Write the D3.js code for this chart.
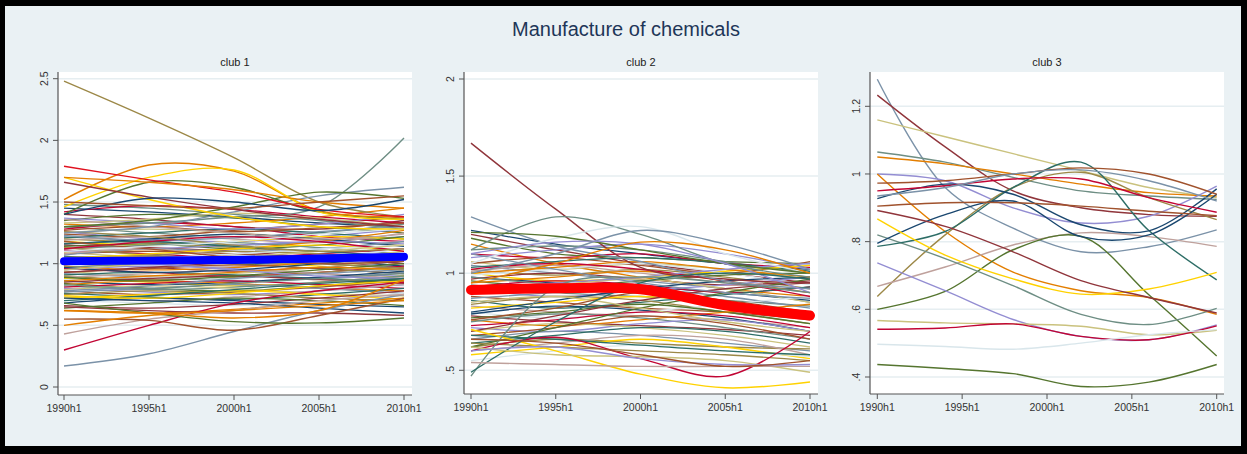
<!DOCTYPE html>
<html>
<head>
<meta charset="utf-8">
<script src="https://cdn.jsdelivr.net/npm/d3@7"></script>
<style>
  html, body { margin: 0; padding: 0; background: #000; }
  svg { display: block; font-family: "Liberation Sans", Arial, sans-serif; }
</style>
</head>
<body>
<svg id="chart" width="1247" height="454"></svg>
<script>
// ---------------- DATA ----------------
const chartTitle = "Manufacture of chemicals";
const panelTitles = ["club 1", "club 2", "club 3"];
const xTickValues = [1990, 1995, 2000, 2005, 2010];
const xTickLabels = ["1990h1", "1995h1", "2000h1", "2005h1", "2010h1"];

const club1Years = [1990, 1995, 2000, 2005, 2010];
const club1Ticks = [0, 0.5, 1, 1.5, 2, 2.5];
const club1Band = [
  [1.45,1.42,1.38,1.33,1.30],[1.40,1.36,1.30,1.28,1.35],[1.35,1.40,1.37,1.30,1.25],[1.32,1.30,1.33,1.38,1.45],
  [1.30,1.25,1.22,1.25,1.32],[1.28,1.33,1.30,1.22,1.18],[1.26,1.20,1.18,1.22,1.28],[1.25,1.28,1.25,1.20,1.15],
  [1.24,1.22,1.27,1.32,1.38],[1.22,1.18,1.15,1.18,1.22],[1.21,1.25,1.28,1.25,1.20],[1.20,1.17,1.13,1.10,1.12],
  [1.19,1.22,1.20,1.17,1.25],[1.18,1.15,1.18,1.22,1.20],[1.17,1.12,1.08,1.12,1.18],[1.16,1.20,1.24,1.20,1.14],
  [1.15,1.13,1.10,1.05,1.02],[1.14,1.16,1.12,1.15,1.22],[1.13,1.10,1.12,1.18,1.27],[1.12,1.15,1.17,1.13,1.08],
  [1.11,1.08,1.05,1.08,1.12],[1.10,1.12,1.15,1.18,1.16],[1.09,1.05,1.02,1.04,1.10],[1.08,1.10,1.08,1.05,1.00],
  [1.07,1.12,1.10,1.12,1.18],[1.06,1.03,1.00,1.02,1.06],[1.05,1.07,1.10,1.08,1.04],[1.04,1.00,0.98,1.02,1.08],
  [1.03,1.06,1.03,0.98,0.95],[1.02,0.98,1.00,1.05,1.12],[1.01,1.03,1.06,1.03,0.98],[1.00,0.97,0.94,0.97,1.02],
  [0.99,1.02,1.00,0.96,0.92],[0.98,0.95,0.97,1.01,1.05],[0.97,1.00,1.03,1.00,0.97],[0.96,0.93,0.90,0.93,0.98],
  [0.95,0.98,0.96,0.92,0.90],[0.94,0.90,0.92,0.97,1.03],[0.93,0.96,0.99,0.96,0.92],[0.92,0.89,0.86,0.88,0.93],
  [0.91,0.93,0.91,0.88,0.86],[0.90,0.87,0.89,0.93,0.97],[0.89,0.92,0.95,0.92,0.88],[0.88,0.85,0.82,0.85,0.90],
  [0.87,0.89,0.87,0.84,0.82],[0.86,0.83,0.85,0.89,0.94],[0.85,0.88,0.90,0.87,0.84],[0.84,0.80,0.78,0.82,0.88],
  [0.83,0.86,0.84,0.80,0.78],[0.82,0.79,0.81,0.85,0.90],[0.81,0.84,0.86,0.83,0.80],[0.80,0.77,0.75,0.78,0.83],
  [0.79,0.82,0.80,0.76,0.74],[0.78,0.75,0.77,0.81,0.86],[0.77,0.80,0.83,0.80,0.76],[0.76,0.73,0.71,0.75,0.80],
  [0.75,0.78,0.76,0.72,0.70],[0.73,0.70,0.73,0.78,0.83],[0.72,0.75,0.78,0.75,0.71],[0.70,0.68,0.66,0.70,0.76],
  [0.68,0.72,0.70,0.67,0.65],[0.66,0.64,0.67,0.72,0.78],[0.64,0.68,0.72,0.70,0.66],[0.62,0.60,0.63,0.68,0.72],
  [1.48,1.45,1.40,1.35,1.28],[1.42,1.47,1.44,1.38,1.33],[1.37,1.33,1.28,1.32,1.40],[1.33,1.36,1.41,1.37,1.30],
  [1.27,1.30,1.26,1.29,1.33],[1.23,1.19,1.21,1.26,1.30],[1.16,1.18,1.14,1.10,1.06],[1.13,1.07,1.04,1.00,0.96],
  [1.08,1.12,1.06,1.01,1.02],[1.04,1.08,1.12,1.15,1.10],[1.00,1.04,1.08,1.12,1.15],[0.97,0.93,0.95,1.00,1.07],
  [0.93,0.97,1.01,1.04,1.00],[0.89,0.86,0.90,0.95,1.00],[0.86,0.90,0.93,0.97,0.95],[0.83,0.80,0.84,0.88,0.92],
  [1.12,1.18,1.22,1.18,1.10],[1.05,1.00,0.95,0.90,0.88],[0.95,1.00,1.05,1.10,1.15],[1.18,1.12,1.05,1.00,1.02],
  [0.78,0.82,0.88,0.92,0.95],[0.70,0.74,0.79,0.84,0.88],[1.26,1.22,1.15,1.10,1.12],[1.36,1.30,1.25,1.20,1.24],
  [0.74,0.72,0.76,0.82,0.86],[1.10,1.14,1.18,1.24,1.28],[0.72,0.70,0.68,0.64,0.60],[0.65,0.62,0.60,0.60,0.58]
];
const club1Outliers = [
  [2.48,2.18,1.86,1.50,1.38],[1.30,1.33,1.38,1.46,2.02],[1.25,1.30,1.42,1.55,1.62],[1.40,1.66,1.62,1.42,1.36],
  [1.30,1.35,1.46,1.58,1.53],[1.52,1.80,1.75,1.43,1.38],[1.46,1.70,1.76,1.42,1.36],[1.70,1.52,1.38,1.30,1.28],
  [1.79,1.68,1.58,1.44,1.38],[1.70,1.66,1.60,1.50,1.45],[1.66,1.54,1.44,1.36,1.30],[1.40,1.53,1.50,1.43,1.52],
  [1.50,1.47,1.45,1.50,1.55],[0.17,0.27,0.45,0.62,0.75],[0.30,0.50,0.68,0.78,0.85],[0.43,0.55,0.62,0.70,0.75],
  [0.55,0.54,0.46,0.58,0.72],[0.68,0.60,0.53,0.52,0.56],[0.62,0.60,0.56,0.62,0.87],[0.50,0.58,0.62,0.66,0.70]
];
const club1OutlierColors = ["brown","teal","emidblue","forest_green","forest_green","dkorange","gold","gold",
  "red","dkorange","maroon","navy","sienna","emidblue","cranberry","erose","sienna","forest_green","dkorange","dkorange"];
const club1Mean = [1.02, 1.025, 1.03, 1.042, 1.056];

const club2Years = [1990, 1995, 2000, 2005, 2010];
const club2Ticks = [0.5, 1, 1.5, 2];
const club2Band = [
  [1.22,1.15,1.10,1.05,1.02],[1.20,1.12,1.05,1.00,0.95],[1.18,1.10,1.08,1.06,1.05],[1.15,1.05,0.98,0.92,0.88],
  [1.12,1.14,1.12,1.06,1.00],[1.10,1.08,1.10,1.05,1.03],[1.08,1.12,1.15,1.10,1.02],[1.06,1.02,1.05,1.02,0.97],
  [1.05,1.08,1.04,1.00,1.06],[1.04,1.00,0.96,0.92,0.85],[1.03,1.06,1.08,1.05,1.01],[1.02,0.99,1.02,0.98,0.92],
  [1.01,1.04,1.00,0.95,0.90],[1.00,0.96,0.98,1.01,1.04],[0.99,1.02,1.05,1.00,0.94],[0.98,0.95,0.93,0.90,0.86],
  [0.97,1.00,0.97,0.94,0.96],[0.96,0.93,0.96,0.99,1.00],[0.95,0.98,1.01,0.96,0.90],[0.94,0.90,0.88,0.86,0.83],
  [0.93,0.96,0.94,0.90,0.93],[0.92,0.88,0.91,0.94,0.98],[0.90,0.94,0.97,0.92,0.85],[0.88,0.85,0.82,0.80,0.76],
  [0.87,0.90,0.92,0.88,0.82],[0.86,0.82,0.85,0.89,0.93],[0.84,0.88,0.86,0.80,0.74],[0.83,0.80,0.78,0.76,0.72],
  [0.82,0.85,0.88,0.84,0.78],[0.80,0.77,0.80,0.84,0.88],[0.79,0.83,0.81,0.77,0.70],[0.78,0.75,0.73,0.71,0.68],
  [0.77,0.80,0.84,0.80,0.74],[0.76,0.73,0.76,0.80,0.84],[0.75,0.79,0.77,0.72,0.66],[0.73,0.76,0.80,0.78,0.72],
  [0.72,0.70,0.74,0.76,0.70],[0.70,0.74,0.72,0.68,0.62],[0.68,0.72,0.78,0.74,0.66],[0.66,0.70,0.68,0.64,0.60],
  [0.64,0.68,0.72,0.70,0.64],[0.62,0.66,0.64,0.62,0.61],[0.60,0.64,0.68,0.66,0.58],[0.58,0.62,0.66,0.62,0.56],
  [0.55,0.60,0.63,0.60,0.57],[0.80,0.86,0.92,0.96,0.98],[0.70,0.78,0.86,0.92,0.95],[0.62,0.72,0.82,0.90,0.97],
  [1.00,1.03,1.06,1.02,0.98],[0.98,0.94,0.90,0.83,0.78],[1.02,1.05,1.02,0.96,0.88],[0.92,0.95,0.98,1.02,1.05],
  [0.85,0.88,0.82,0.75,0.70],[0.76,0.82,0.90,0.86,0.80],[1.10,1.02,0.95,0.90,0.87],[0.68,0.66,0.63,0.60,0.58],
  [0.64,0.62,0.60,0.58,0.55]
];
const club2Outliers = [
  [1.67,1.33,1.03,0.97,0.95],[1.12,1.29,1.20,1.05,0.98],[1.29,1.14,1.06,0.96,0.92],[1.05,1.18,1.24,1.10,1.00],
  [1.00,1.10,1.22,1.15,1.02],[1.21,1.19,1.12,1.05,1.00],[1.10,1.16,1.15,1.05,0.90],[0.95,1.05,1.16,1.12,1.00],
  [0.71,0.60,0.48,0.41,0.44],[0.60,0.67,0.56,0.47,0.70],[0.47,0.93,0.98,0.95,0.90],[0.49,0.75,0.95,1.00,0.97],
  [0.62,0.58,0.57,0.55,0.49],[0.54,0.53,0.52,0.52,0.52],[0.60,0.62,0.56,0.53,0.53],[0.66,0.64,0.58,0.52,0.55]
];
const club2OutlierColors = ["maroon","teal","emidblue","bluishgray","emidblue","forest_green","lavender","dkorange",
  "gold","cranberry","teal","emerald","khaki","erose","lavender","sienna"];
const club2Mean = [0.914, 0.922, 0.917, 0.835, 0.782];

const club3Years = [1990, 1994, 1998, 2002, 2006, 2010];
const club3Ticks = [0.4, 0.6, 0.8, 1, 1.2];
const club3Series = [
  [1.28,0.96,0.84,0.77,0.785,0.835],[1.233,1.08,0.95,0.90,0.88,0.875],[1.16,1.11,1.06,1.01,0.96,0.93],
  [1.065,1.035,0.99,0.95,0.935,0.925],[1.05,1.03,1.0,0.97,0.945,0.935],[1.0,0.98,0.90,0.855,0.875,0.964],
  [1.0,0.83,0.71,0.655,0.635,0.585],[0.638,0.82,0.96,1.005,0.93,0.865],[0.668,0.725,0.79,0.826,0.815,0.786],
  [0.6,0.653,0.776,0.816,0.643,0.462],[0.82,0.75,0.67,0.585,0.555,0.603],[0.737,0.655,0.57,0.52,0.51,0.554],
  [0.567,0.56,0.557,0.55,0.525,0.538],[0.541,0.545,0.557,0.52,0.51,0.551],[0.497,0.49,0.482,0.5,0.525,0.54],
  [0.437,0.425,0.41,0.372,0.385,0.437],[0.786,0.83,0.96,1.035,0.833,0.687],[0.927,0.97,0.94,0.85,0.832,0.956],
  [0.795,0.88,0.92,0.815,0.82,0.94],[0.973,0.98,1.0,1.018,1.0,0.94],[0.905,0.915,0.915,0.905,0.89,0.877],
  [0.95,0.965,0.985,0.985,0.93,0.887],[0.935,0.96,1.0,1.012,0.98,0.92],[0.867,0.76,0.69,0.645,0.66,0.709],
  [0.892,0.845,0.77,0.685,0.635,0.589]
];
const club3Colors = ["emidblue","maroon","khaki","teal","dkorange","lavender","dkorange","brown","erose",
  "forest_green","teal","lavender","khaki","cranberry","bluishgray","forest_green","emerald","navy","navy",
  "sienna","sienna","cranberry","emidblue","gold","maroon"];

// ---------------- STYLE ----------------
const palette = {
  navy:"#1a476f", maroon:"#90353b", forest_green:"#55752f", dkorange:"#e37e00", teal:"#6e8e84",
  cranberry:"#c10534", lavender:"#938dd2", khaki:"#cac27e", sienna:"#a0522d", emidblue:"#7b92a8",
  emerald:"#2d6d66", brown:"#9c8847", erose:"#bfa19c", gold:"#ffd200", bluishgray:"#d9e6eb", red:"#e0101e"
};
const cycle = ["navy","maroon","forest_green","dkorange","teal","cranberry","lavender","khaki","sienna",
  "emidblue","emerald","brown","erose","gold","bluishgray"];

const svg = d3.select("#chart");
svg.append("rect").attr("width",1247).attr("height",454).attr("fill","#000");
svg.append("rect").attr("x",5).attr("y",6).attr("width",1236).attr("height",440).attr("fill","#eaf1f4");

svg.append("text").attr("x",626).attr("y",36).attr("text-anchor","middle")
  .attr("font-size",20).attr("fill","#1e3658").text(chartTitle);

const panels = [
  { x0:58, x1:412, top:72, bottom:395, xr:[64,404], yd:[0,2.5], yr:[387,78.7], ticks:club1Ticks,
    years:club1Years, band:club1Band, outliers:club1Outliers, outColors:club1OutlierColors,
    mean:club1Mean, meanColor:"#0000ff", meanWidth:8 },
  { x0:464, x1:818, top:72, bottom:394, xr:[471,810], yd:[0.5,2], yr:[370.3,79], ticks:club2Ticks,
    years:club2Years, band:club2Band, outliers:club2Outliers, outColors:club2OutlierColors,
    mean:club2Mean, meanColor:"#ff0000", meanWidth:10 },
  { x0:870, x1:1224, top:72, bottom:394, xr:[877.3,1216.7], yd:[0.4,1.2], yr:[377,106.3], ticks:club3Ticks,
    years:club3Years, band:[], outliers:club3Series, outColors:club3Colors, mean:null }
];

const fmt = v => String(+v.toFixed(2)).replace(/^0\./, ".");

panels.forEach((p, pi) => {
  const g = svg.append("g");
  const x = d3.scaleLinear().domain([1990, 2010]).range(p.xr);
  const y = d3.scaleLinear().domain(p.yd).range(p.yr);

  g.append("rect").attr("x",p.x0).attr("y",p.top).attr("width",p.x1-p.x0).attr("height",p.bottom-p.top)
    .attr("fill","#fff");

  // grid
  g.selectAll(".grid").data(p.ticks).join("line")
    .attr("x1",p.x0).attr("x2",p.x1).attr("y1",d=>y(d)).attr("y2",d=>y(d))
    .attr("stroke","#e6eef1").attr("stroke-width",1.5);

  const clipId = "clip"+pi;
  svg.append("clipPath").attr("id",clipId).append("rect")
    .attr("x",p.x0).attr("y",p.top).attr("width",p.x1-p.x0).attr("height",p.bottom-p.top);
  const lines = g.append("g").attr("clip-path",`url(#${clipId})`);

  const line = d3.line().x((d,i)=>x(p.years[i])).y(d=>y(d)).curve(d3.curveCatmullRom.alpha(0.5));

  lines.selectAll(".band").data(p.band).join("path")
    .attr("d",line).attr("fill","none")
    .attr("stroke",(d,i)=>palette[cycle[i % cycle.length]]).attr("stroke-width",1.3);
  lines.selectAll(".out").data(p.outliers).join("path")
    .attr("d",line).attr("fill","none")
    .attr("stroke",(d,i)=>palette[p.outColors[i]]).attr("stroke-width",1.4);
  if (p.mean) {
    lines.append("path").datum(p.mean).attr("d",line).attr("fill","none")
      .attr("stroke",p.meanColor).attr("stroke-width",p.meanWidth).attr("stroke-linecap","round");
  }

  // axes
  const axisColor = "#555";
  g.append("line").attr("x1",p.x0).attr("x2",p.x0).attr("y1",p.top).attr("y2",p.bottom)
    .attr("stroke",axisColor).attr("stroke-width",1.2);
  g.append("line").attr("x1",p.x0).attr("x2",p.x1).attr("y1",p.bottom).attr("y2",p.bottom)
    .attr("stroke",axisColor).attr("stroke-width",1.2);

  g.selectAll(".yt").data(p.ticks).join("line")
    .attr("x1",p.x0-5).attr("x2",p.x0).attr("y1",d=>y(d)).attr("y2",d=>y(d))
    .attr("stroke",axisColor).attr("stroke-width",1);
  g.selectAll(".yl").data(p.ticks).join("text")
    .attr("transform",d=>`translate(${p.x0-10.5},${y(d)}) rotate(-90)`)
    .attr("text-anchor","middle").attr("font-size",10.5).attr("fill","#333").text(fmt);

  g.selectAll(".xt").data(xTickValues).join("line")
    .attr("x1",d=>x(d)).attr("x2",d=>x(d)).attr("y1",p.bottom).attr("y2",p.bottom+5)
    .attr("stroke",axisColor).attr("stroke-width",1);
  g.selectAll(".xl").data(xTickValues).join("text")
    .attr("x",d=>x(d)).attr("y",p.bottom+17).attr("text-anchor","middle")
    .attr("font-size",10.5).attr("fill","#333").text((d,i)=>xTickLabels[i]);

  g.append("text").attr("x",(p.x0+p.x1)/2).attr("y",66).attr("text-anchor","middle")
    .attr("font-size",11).attr("fill","#222").text(panelTitles[pi]);
});
</script>
</body>
</html>
